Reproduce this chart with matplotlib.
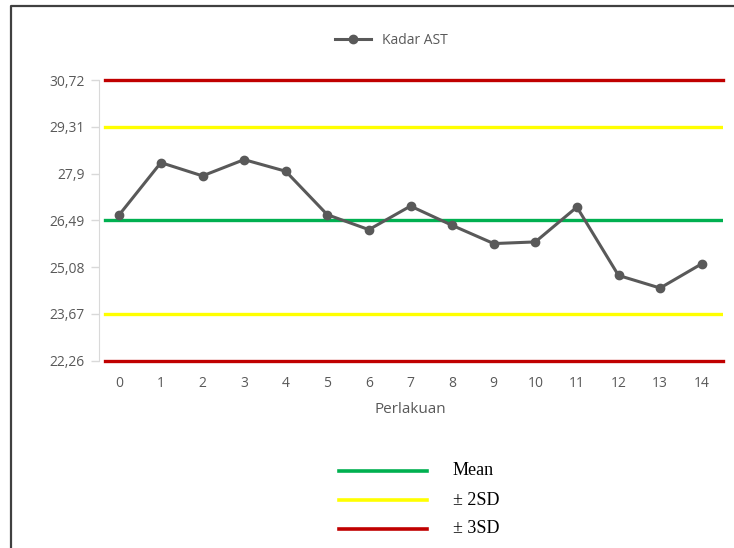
import matplotlib
matplotlib.use("Agg")
import matplotlib.pyplot as plt
from matplotlib.lines import Line2D

plt.rcParams['font.family'] = ['Open Sans', 'DejaVu Sans']

perlakuan = list(range(15))
kadar_ast = [26.66, 28.23, 27.83, 28.32, 27.97, 26.66, 26.21, 26.92,
             26.34, 25.79, 25.84, 26.89, 24.83, 24.45, 25.18]

mean = 26.49
sd2 = (23.67, 29.31)
sd3 = (22.26, 30.72)
y_ticks = [22.26, 23.67, 25.08, 26.49, 27.9, 29.31, 30.72]
y_labels = ['22,26', '23,67', '25,08', '26,49', '27,9', '29,31', '30,72']

grey = '#595959'
W, H = 734, 548
fig = plt.figure(figsize=(W / 100, H / 100), dpi=100)
ax = fig.add_axes([98.5 / W, (H - 360.7) / H, 624 / W, 280.7 / H])

x0 = 0.01  # limit lines start just right of the axis
ax.axhline(mean, xmin=x0, color='#00B050', lw=2.4, zorder=2)
for v in sd2:
    ax.axhline(v, xmin=x0, color='#FFFF00', lw=2.4, zorder=2)
for v in sd3:
    ax.axhline(v, xmin=x0, color='#C00000', lw=2.4, zorder=2, clip_on=False)

ax.plot(perlakuan, kadar_ast, color=grey, lw=2.2, marker='o', ms=6,
        label='Kadar AST', zorder=3)

ax.set_xlim(-0.5, 14.5)
ax.set_ylim(sd3[0], sd3[1])
ax.set_xticks(perlakuan)
ax.set_yticks(y_ticks)
ax.set_yticklabels(y_labels)
ax.tick_params(axis='x', length=0, pad=11, labelsize=10, colors=grey)
ax.tick_params(axis='y', length=6, width=1, color='#D9D9D9', pad=4,
               labelsize=10, labelcolor=grey)
for s in ['top', 'right', 'bottom']:
    ax.spines[s].set_visible(False)
ax.spines['left'].set_color('#D9D9D9')
ax.set_xlabel('Perlakuan', fontsize=11, color=grey, labelpad=8)

fig.legend(loc='center', bbox_to_anchor=(391 / W, 1 - 40 / H), frameon=False,
           fontsize=10, handlelength=2.6, labelcolor=grey)

# bottom legend for control limits
legend_items = [('Mean', '#00B050', 470.7), ('± 2SD', '#FFFF00', 500.3),
                ('± 3SD', '#C00000', 528.7)]
for label, color, yp in legend_items:
    fig.add_artist(Line2D([339 / W, 427 / W], [1 - yp / H, 1 - yp / H],
                          color=color, lw=2.6, transform=fig.transFigure))
    fig.text(453 / W, 1 - yp / H, label, fontsize=13, va='center', ha='left',
             family='Liberation Serif', color='black')

# outer frame
fig.add_artist(Line2D([11 / W, 11 / W, 1.0], [0.0, 1 - 6 / H, 1 - 6 / H],
                      color='#404040', lw=1.6, transform=fig.transFigure))

fig.savefig('out.png', dpi=100)
